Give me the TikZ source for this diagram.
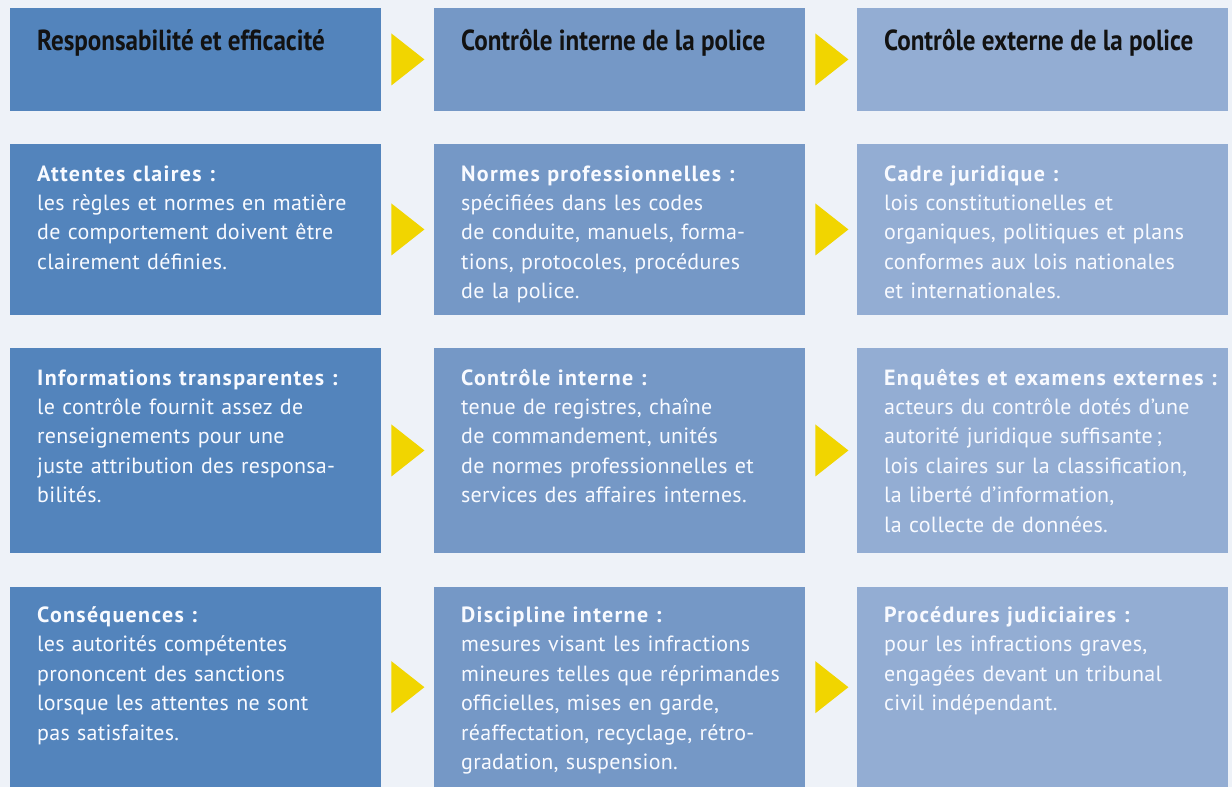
\documentclass[tikz,border=0pt]{standalone}
\usepackage{fontspec}
\setmainfont{PT Sans}[LetterSpace=1.2, BoldFeatures={LetterSpace=6}]
\newfontfamily\headfont[FakeStretch=0.865]{PT Sans}
\usetikzlibrary{calc}
\definecolor{bg}{HTML}{EEF2F8}
\definecolor{cA}{HTML}{5384BC}
\definecolor{cB}{HTML}{7598C6}
\definecolor{cC}{HTML}{93ADD3}
\definecolor{tri}{HTML}{F1D500}
\definecolor{txt}{HTML}{F8FAFF}
\tikzset{
  box/.style={anchor=north west, inner sep=0, minimum width=371pt, draw=none},
  headtxt/.style={anchor=base west, inner sep=0, font=\headfont\bfseries\fontsize{29}{31}\selectfont, text=black!93},
  bodytxt/.style={anchor=base west, inner sep=0, text width=355pt, align=left, text=txt, font=\fontsize{22}{29.4}\selectfont},
}
\newcommand{\arrowtri}[1]{\fill[tri] ($(#1.east)+(10pt,26pt)$) -- ($(#1.east)+(43pt,0pt)$) -- ($(#1.east)+(10pt,-26pt)$) -- cycle;}
\begin{document}
\begin{tikzpicture}[x=1pt,y=-1pt]
\fill[bg] (0,0) rectangle (1232,787);
\useasboundingbox (0,0) rectangle (1232,787);
% row 0
\node[box, fill=cA, minimum height=102.5pt] (b01) at (10,8) {};
\node[box, fill=cB, minimum height=102.5pt] (b02) at (434,8) {};
\node[box, fill=cC, minimum height=102.5pt] (b03) at (857,8) {};
% row 1
\node[box, fill=cA, minimum height=170.5pt] (b11) at (10,144) {};
\node[box, fill=cB, minimum height=170.5pt] (b12) at (434,144) {};
\node[box, fill=cC, minimum height=170.5pt] (b13) at (857,144) {};
% row 2
\node[box, fill=cA, minimum height=204.5pt] (b21) at (10,348) {};
\node[box, fill=cB, minimum height=204.5pt] (b22) at (434,348) {};
\node[box, fill=cC, minimum height=204.5pt] (b23) at (857,348) {};
% row 3
\node[box, fill=cA, minimum height=200pt] (b31) at (10,587) {};
\node[box, fill=cB, minimum height=200pt] (b32) at (434,587) {};
\node[box, fill=cC, minimum height=200pt] (b33) at (857,587) {};
% arrows
\foreach \r in {0,1,2,3}{
  \arrowtri{b\r1}
  \arrowtri{b\r2}
}
% headers
\node[headtxt] (h1) at (37,50) {Responsabilité et efficacité};
\node[headtxt] (h2) at (461,50) {Contrôle interne de la police};
\node[headtxt] (h3) at (884,50) {Contrôle externe de la police};
% row 1 text
\node[bodytxt] (t11) at (37,181) {\textbf{Attentes claires :}\\les règles et normes en matière\\de comportement doivent être\\clairement définies.};
\node[bodytxt] (t12) at (461,181) {\textbf{Normes professionnelles :}\\spécifiées dans les codes\\de conduite, manuels, forma-\\tions, protocoles, procédures\\de la police.};
\node[bodytxt] (t13) at (884,181) {\textbf{Cadre juridique :}\\lois constitutionelles et\\organiques, politiques et plans\\conformes aux lois nationales\\et internationales.};
% row 2 text
\node[bodytxt] (t21) at (37,385) {\textbf{Informations transparentes :}\\le contrôle fournit assez de\\renseignements pour une\\juste attribution des responsa-\\bilités.};
\node[bodytxt] (t22) at (461,385) {\textbf{Contrôle interne :}\\tenue de registres, chaîne\\de commandement, unités\\de normes professionnelles et\\services des affaires internes.};
\node[bodytxt] (t23) at (884,385) {\textbf{Enquêtes et examens externes :}\\acteurs du contrôle dotés d’une\\autorité juridique suffisante\,;\\lois claires sur la classification,\\la liberté d’information,\\la collecte de données.};
% row 3 text
\node[bodytxt] (t31) at (37,622.5) {\textbf{Conséquences :}\\les autorités compétentes\\prononcent des sanctions\\lorsque les attentes ne sont\\pas satisfaites.};
\node[bodytxt] (t32) at (461,622.5) {\textbf{Discipline interne :}\\mesures visant les infractions\\mineures telles que réprimandes\\officielles, mises en garde,\\réaffectation, recyclage, rétro-\\gradation, suspension.};
\node[bodytxt] (t33) at (884,622.5) {\textbf{Procédures judiciaires :}\\pour les infractions graves,\\engagées devant un tribunal\\civil indépendant.};
\end{tikzpicture}
\end{document}
